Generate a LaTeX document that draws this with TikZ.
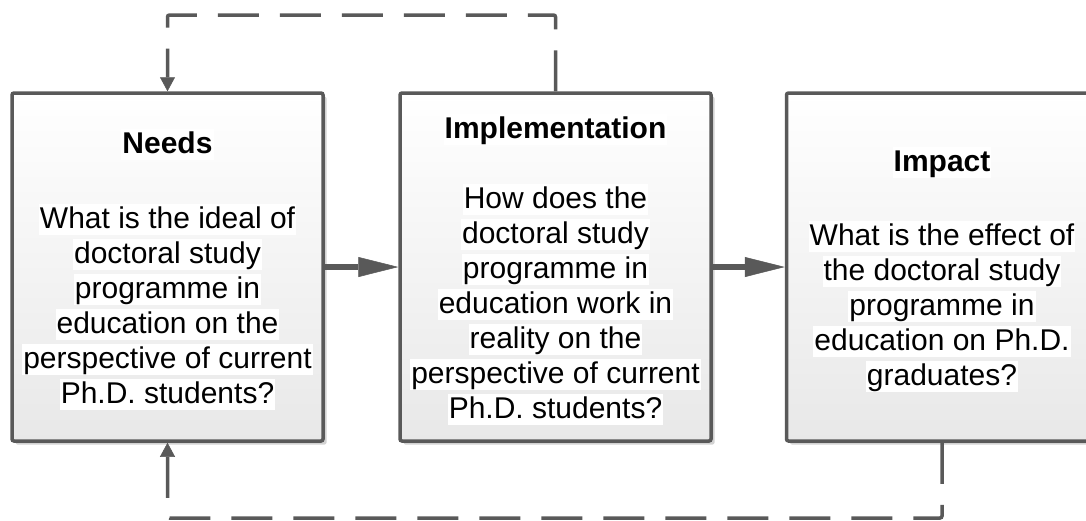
\documentclass[tikz,border=0pt]{standalone}
\usepackage{fontspec}
\setmainfont{Liberation Sans}
\usetikzlibrary{arrows.meta,shadows}

\definecolor{edge}{HTML}{595959}
\definecolor{shadegray}{HTML}{D2D2D2}

% one line of text on its own white band
\newcommand\hlline[1]{{\fboxsep=0pt\colorbox{white}{\kern1pt\rule[-7pt]{0pt}{31pt}#1\kern1pt}}}

\tikzset{
  stagebox/.style={rectangle, minimum width=311pt, minimum height=348pt,
    draw=edge, line width=3.5pt, rounded corners=2pt,
    top color=white, bottom color=black!9,
    drop shadow={shadow xshift=3.5pt, shadow yshift=-3.5pt, fill=shadegray, opacity=1}},
  stagetext/.style={anchor=north, inner sep=0pt, align=center, text=black,
    font=\fontsize{30}{35}\selectfont},
  flow/.style={draw=edge, line width=5.5pt,
    -{Triangle[length=40pt,width=20pt,line width=0.5pt]}},
  feedback/.style={draw=edge, line width=3.5pt, dash pattern=on 41pt off 21pt,
    rounded corners=2pt, -{Triangle[length=14pt,width=15pt,line width=0.5pt]}}
}

\begin{document}
\begin{tikzpicture}[x=1pt,y=-1pt]
  \clip (0,0) rectangle (1086,520);

  % the three stages
  \node[stagebox] (needs)  at (167.5,267) {};
  \node[stagebox] (impl)   at (555.5,267) {};
  \node[stagebox] (impact) at (942,267) {};

  \node[stagetext] (needs-text) at (167.5,129) {%
    \hlline{\bfseries Needs}\\[40pt]
    \hlline{What is the ideal of}\\
    \hlline{doctoral study}\\
    \hlline{programme in}\\
    \hlline{education on the}\\
    \hlline{perspective of current}\\
    \hlline{Ph.D. students?}};

  \node[stagetext] (impl-text) at (555.5,114) {%
    \hlline{\bfseries Implementation}\\[35pt]
    \hlline{How does the}\\
    \hlline{doctoral study}\\
    \hlline{programme in}\\
    \hlline{education work in}\\
    \hlline{reality on the}\\
    \hlline{perspective of current}\\
    \hlline{Ph.D. students?}};

  \node[stagetext] (impact-text) at (942,147) {%
    \hlline{\bfseries Impact}\\[39pt]
    \hlline{What is the effect of}\\
    \hlline{the doctoral study}\\
    \hlline{programme in}\\
    \hlline{education on Ph.D.}\\
    \hlline{graduates?}};

  % forward flow
  \draw[flow] (needs.east) -- (impl.west);
  \draw[flow] (impl.east) -- (impact.west);

  % feedback loops
  \draw[feedback] (impl.north) -- (impl.north |- 0,15) -| (needs.north);
  \draw[feedback] (impact.south) -- (impact.south |- 0,518) -| (needs.south);
\end{tikzpicture}
\end{document}
